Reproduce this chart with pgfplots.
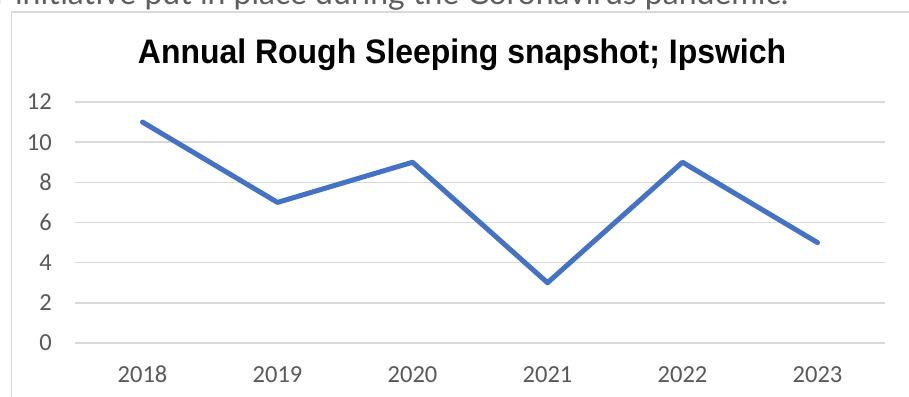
\documentclass[border=0pt]{standalone}
\usepackage{fontspec}
\setmainfont{Liberation Sans}
\newfontfamily\calibri{Carlito}
\newfontfamily\lato{Lato}
\usepackage{pgfplots}
\pgfplotsset{compat=1.18}
\definecolor{xlblue}{HTML}{4472C4}
\definecolor{xlgrid}{HTML}{D9D9D9}
\definecolor{xltick}{HTML}{595959}
\definecolor{toptxt}{HTML}{5F5F5F}
\begin{document}
\begin{tikzpicture}[x=1bp,y=1bp]
\useasboundingbox (0,0) rectangle (909,396);
\clip (0,0) rectangle (909,396);
\node[anchor=base west, inner sep=0, text=toptxt] at (-5,391)
  {\lato\fontsize{32bp}{38bp}\selectfont r initiative put in place during the Coronavirus pandemic.};
\fill[white] (11.5,-10) rectangle (940,384);
\draw[xlgrid, line width=1.5bp] (11.5,-10) rectangle (940,384);
\node[anchor=base, inner sep=0, xscale=0.94] at (462,333)
  {\bfseries\fontsize{34bp}{40bp}\selectfont Annual Rough Sleeping snapshot; Ipswich};
\begin{axis}[
  at={(75bp,53bp)}, anchor=south west,
  scale only axis, width=810bp, height=241bp,
  xmin=-0.5, xmax=5.5, ymin=0, ymax=12,
  xtick={0,1,2,3,4,5},
  xticklabels={2018,2019,2020,2021,2022,2023},
  ytick={0,2,4,6,8,10,12},
  axis line style={draw=none},
  major tick length=0pt,
  ymajorgrids, grid style={xlgrid, line width=1.5bp},
  /pgf/number format/assume math mode=true,
  ticklabel style={font=\calibri\fontsize{24.5bp}{29bp}\selectfont, text=xltick, inner sep=0pt},
  xticklabel style={anchor=base, yshift=-39bp},
  yticklabel style={anchor=east, xshift=-23bp},
  clip=false,
]
\addplot[xlblue, line width=5bp, line join=round, line cap=round] coordinates {
  (0,11) (1,7) (2,9) (3,3) (4,9) (5,5)
};
\end{axis}
\end{tikzpicture}
\end{document}
